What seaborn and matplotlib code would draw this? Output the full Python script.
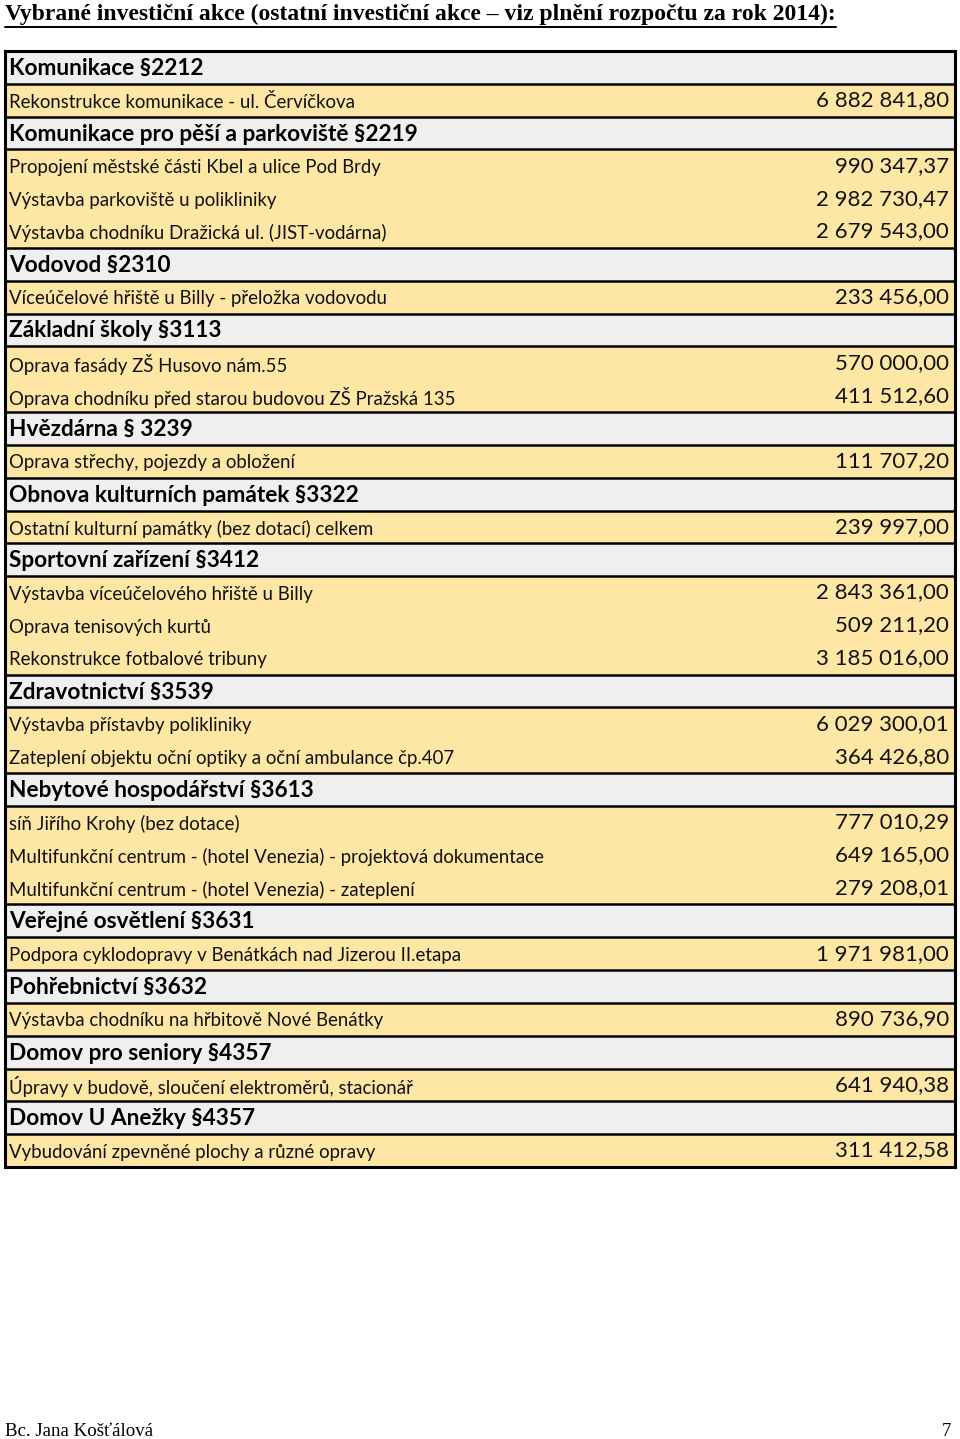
import numpy as np
import pandas as pd
import seaborn as sns
import matplotlib.pyplot as plt

# table content
labels = [
    "Komunikace §2212",
    "Rekonstrukce komunikace - ul. Červíčkova",
    "Komunikace pro pěší a parkoviště §2219",
    "Propojení městské části Kbel a ulice Pod Brdy",
    "Výstavba parkoviště u polikliniky",
    "Výstavba chodníku Dražická ul. (JIST-vodárna)",
    "Vodovod §2310",
    "Víceúčelové hřiště u Billy - přeložka vodovodu",
    "Základní školy §3113",
    "Oprava fasády ZŠ Husovo nám.55",
    "Oprava chodníku před starou budovou ZŠ Pražská 135",
    "Hvězdárna § 3239",
    "Oprava střechy, pojezdy a obložení",
    "Obnova kulturních památek §3322",
    "Ostatní kulturní památky (bez dotací) celkem",
    "Sportovní zařízení §3412",
    "Výstavba víceúčelového hřiště u Billy",
    "Oprava tenisových kurtů",
    "Rekonstrukce fotbalové tribuny",
    "Zdravotnictví §3539",
    "Výstavba přístavby polikliniky",
    "Zateplení objektu oční optiky a oční ambulance čp.407",
    "Nebytové hospodářství §3613",
    "síň Jiřího Krohy (bez dotace)",
    "Multifunkční centrum - (hotel Venezia) - projektová dokumentace",
    "Multifunkční centrum - (hotel Venezia) - zateplení",
    "Veřejné osvětlení §3631",
    "Podpora cyklodopravy v Benátkách nad Jizerou II.etapa",
    "Pohřebnictví §3632",
    "Výstavba chodníku na hřbitově Nové Benátky",
    "Domov pro seniory §4357",
    "Úpravy v budově, sloučení elektroměrů, stacionář",
    "Domov U Anežky §4357",
    "Vybudování zpevněné plochy a různé opravy",
]
amounts = [
    None, 6882841.80,
    None, 990347.37, 2982730.47, 2679543.00,
    None, 233456.00,
    None, 570000.00, 411512.60,
    None, 111707.20,
    None, 239997.00,
    None, 2843361.00, 509211.20, 3185016.00,
    None, 6029300.01, 364426.80,
    None, 777010.29, 649165.00, 279208.01,
    None, 1971981.00,
    None, 890736.90,
    None, 641940.38,
    None, 311412.58,
]

title = "Vybrané investiční akce (ostatní investiční akce – viz plnění rozpočtu za rok 2014):"
footer_left = "Bc. Jana Košťálová"
footer_right = "7"


def cz_money(v):
    return f"{v:,.2f}".replace(",", " ").replace(".", ",")


df = pd.DataFrame({"label": labels, "amount": amounts})
df["row"] = np.arange(len(df))
df["kind"] = np.where(df["amount"].isna(), "header", "item")
df["full"] = 1.0

sns.set_theme(style="white")
plt.rcParams["font.family"] = ["Lato", "DejaVu Sans"]

W, H = 960, 1439
fig = plt.figure(figsize=(W / 100, H / 100), dpi=100)

# table area in pixels: x 5..955, y 51..1167
ax = fig.add_axes([5 / W, 1 - 1167 / H, 950 / W, 1116 / H])
sns.barplot(data=df, x="full", y="row", hue="kind", orient="h", dodge=False,
            palette={"header": "#efefef", "item": "#fee7a4"}, width=1.0,
            saturation=1, legend=False, ax=ax, linewidth=0)
ax.set_xlim(0, 1)
ax.set_ylim(len(df) - 0.5, -0.5)
ax.set_xticks([])
ax.set_yticks([])
ax.set_xlabel("")
ax.set_ylabel("")
for s in ax.spines.values():
    s.set_visible(True)
    s.set_color("black")
    s.set_linewidth(2.2)

for i, r in df.iterrows():
    if r["kind"] == "header":
        ax.axhline(i - 0.5, color="black", lw=1.8)
        ax.axhline(i + 0.5, color="black", lw=1.8)
        ax.text(0.0045, i + 0.03, r["label"], ha="left", va="center",
                fontsize=16.3, fontweight="bold", color="black")
    else:
        ax.text(0.0045, i + 0.05, r["label"], ha="left", va="center",
                fontsize=13.4, color="#111111")
        ax.text(0.9935, i + 0.0, cz_money(r["amount"]), ha="right", va="center",
                fontsize=16, color="#111111")

serif = ["Liberation Serif", "DejaVu Serif"]
t = fig.text(5 / W, 1 - 14 / H, title, ha="left", va="center", fontsize=17,
             fontweight="bold", family=serif, color="black")
fig.canvas.draw()
bb = t.get_window_extent()
fig.add_artist(plt.Line2D([bb.x0 / W, bb.x1 / W], [1 - 27 / H, 1 - 27 / H],
                          color="black", lw=1.4))

fig.text(5 / W, 1 - 1431 / H, footer_left, ha="left", va="center", fontsize=13.6,
         family=serif, color="black")
fig.text(951 / W, 1 - 1431 / H, footer_right, ha="right", va="center", fontsize=13.6,
         family=serif, color="black")

fig.savefig("out.png", dpi=100, facecolor="white")
